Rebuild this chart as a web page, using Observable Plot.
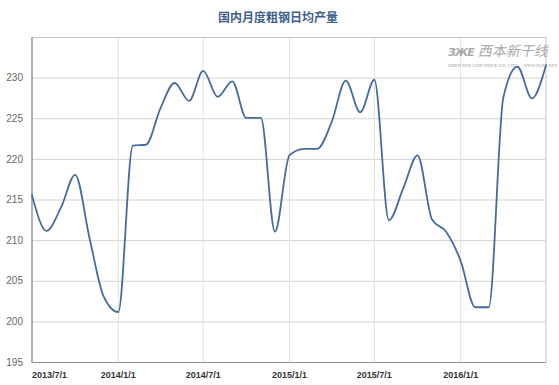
<!DOCTYPE html>
<html><head><meta charset="utf-8">
<script src="https://cdn.jsdelivr.net/npm/d3@7"></script>
<script src="https://cdn.jsdelivr.net/npm/@observablehq/plot@0.6"></script>
<style>
body{margin:0;background:#fff;width:559px;height:385px;overflow:hidden;position:relative;font-family:"Noto Sans CJK SC","Liberation Sans",sans-serif}
#title{height:28px;line-height:34px;text-align:center;font-size:12px;font-weight:bold;color:#3f5f8f;padding-right:3px}
#chart svg{display:block}
#wm{position:absolute;left:448px;top:41px;width:96px;color:#a8a8a8;pointer-events:none}
#wm .big{font-size:14px;font-style:italic;line-height:18px;white-space:nowrap}
#wm .icon{font-family:"DejaVu Sans";font-weight:bold;font-size:11px;letter-spacing:-1px;margin-right:4px}
#wm .small{font-family:"Liberation Serif";font-style:italic;font-size:4.5px;white-space:nowrap;margin-top:1px;color:#999}
</style></head><body>
<div id="title">国内月度粗钢日均产量</div>
<div id="chart"></div>
<div id="wm"><div class="big"><span class="icon">ЗЖЕ</span>西本新干线</div><div class="small">XIBEN NEW LINE STOCK CO., LTD. &nbsp;&nbsp;&nbsp;&nbsp;&nbsp;WWW.96369.NET</div></div>
<script>
const months = ["2013-07-01","2013-08-01","2013-09-01","2013-10-01","2013-11-01","2013-12-01",
"2014-01-01","2014-02-01","2014-03-01","2014-04-01","2014-05-01","2014-06-01",
"2014-07-01","2014-08-01","2014-09-01","2014-10-01","2014-11-01","2014-12-01",
"2015-01-01","2015-02-01","2015-03-01","2015-04-01","2015-05-01","2015-06-01",
"2015-07-01","2015-08-01","2015-09-01","2015-10-01","2015-11-01","2015-12-01",
"2016-01-01","2016-02-01","2016-03-01","2016-04-01","2016-05-01","2016-06-01","2016-07-01"];
const output = [215.6,211.2,214.1,218.1,210.2,203.1,
201.2,221.7,221.8,226.3,229.4,227.2,
230.9,227.7,229.6,225.1,225.1,211.1,
220.5,221.3,221.3,224.6,229.7,225.8,
229.8,212.5,216.5,220.5,212.6,211.1,
207.5,201.8,201.8,227.6,231.4,227.5,231.6];
const yTicks = [195,200,205,210,215,220,225,230];
const yGrid = [195,200,205,210,215,220,225,230,235];
const xTickLabels = ["2013-07-01","2014-01-01","2014-07-01","2015-01-01","2015-07-01","2016-01-01"];
const xDomain = ["2013-07-01","2016-07-01"];

const data = months.map((m,i)=>({date:new Date(m+"T00:00:00Z"), v:output[i]}));
const xt = xTickLabels.map(s=>new Date(s+"T00:00:00Z"));
const fmt = d => `${d.getUTCFullYear()}/${d.getUTCMonth()+1}/${d.getUTCDate()}`;

const chart = Plot.plot({
  width:559, height:357,
  marginTop:9, marginBottom:23, marginLeft:31.5, marginRight:13.5,
  style:{fontFamily:"'Liberation Sans',Arial,sans-serif", background:"#fff"},
  x:{type:"utc", domain:xDomain.map(s=>new Date(s+"T00:00:00Z")), label:null},
  y:{domain:[195,235], label:null},
  marks:[
    Plot.gridY(yGrid,{stroke:"#d4d4d4", strokeOpacity:1, strokeWidth:1}),
    Plot.gridX(xt.slice(1),{stroke:"#e0e0e0", strokeOpacity:1, strokeWidth:1}),
    Plot.frame({stroke:"#c4c4c4"}),
    Plot.ruleX([xt[0]],{stroke:"#909090", strokeWidth:1.2}),
    Plot.ruleY([195],{stroke:"#909090", strokeWidth:1.2}),
    Plot.axisY(yTicks,{tickSize:0, tickPadding:9, fill:"#666", fontSize:10, label:null}),
    Plot.axisX([xt[0]],{tickSize:0, tickPadding:9, textAnchor:"start", fontWeight:"bold", fontSize:9, fill:"#333", tickFormat:fmt, label:null}),
    Plot.axisX(xt.slice(1),{tickSize:0, tickPadding:9, fontWeight:"bold", fontSize:9, fill:"#333", tickFormat:fmt, label:null}),
    Plot.line(data,{x:"date", y:"v", curve:"monotone-x", stroke:"#456c9e", strokeWidth:1.8})
  ]
});
document.getElementById("chart").appendChild(chart);
</script>
</body></html>
